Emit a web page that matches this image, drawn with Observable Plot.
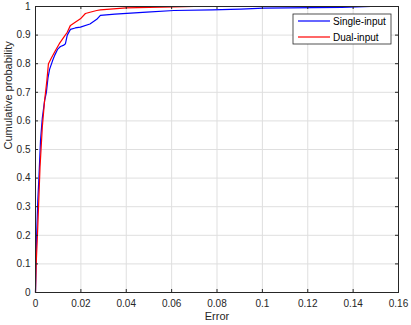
<!DOCTYPE html>
<html><head><meta charset="utf-8">
<script src="https://cdn.jsdelivr.net/npm/d3@7"></script>
<script src="https://cdn.jsdelivr.net/npm/@observablehq/plot@0.6"></script>
<style>
body{margin:0;background:#fff;}
#chart svg{font-family:"Liberation Sans",Arial,sans-serif;}
</style>
</head><body><div id="chart"></div>
<script>
const seriesNames = ["Single-input", "Dual-input"];
const seriesColors = ["#0000ff", "#ff0000"];
const singleErr = [0, 0.0002, 0.0005, 0.001, 0.0015, 0.0022, 0.003, 0.004, 0.0048, 0.0055, 0.0062, 0.0075, 0.0085, 0.0097, 0.011, 0.0125, 0.0132, 0.014, 0.0154, 0.0175, 0.0198, 0.024, 0.027, 0.0286, 0.035, 0.049, 0.061, 0.078, 0.086, 0.0905, 0.1005, 0.1225, 0.135, 0.148];
const singleProb = [0, 0.08, 0.2, 0.32, 0.40, 0.53, 0.61, 0.67, 0.70, 0.75, 0.78, 0.81, 0.83, 0.85, 0.86, 0.865, 0.87, 0.90, 0.92, 0.925, 0.928, 0.939, 0.955, 0.969, 0.973, 0.98, 0.986, 0.988, 0.99, 0.991, 0.994, 0.996, 0.997, 1.0];
const dualErr = [0, 0.0003, 0.001, 0.002, 0.003, 0.004, 0.005, 0.0057, 0.007, 0.0088, 0.0105, 0.0125, 0.014, 0.0154, 0.0175, 0.0198, 0.022, 0.024, 0.027, 0.0286, 0.04, 0.05, 0.061, 0.07];
const dualProb = [0, 0.1, 0.228, 0.44, 0.578, 0.67, 0.74, 0.80, 0.82, 0.846, 0.87, 0.893, 0.91, 0.934, 0.945, 0.957, 0.9755, 0.98, 0.986, 0.988, 0.995, 0.997, 0.999, 1.0];
const xTicks = [0, 0.02, 0.04, 0.06, 0.08, 0.1, 0.12, 0.14, 0.16];
const yTicks = [0, 0.1, 0.2, 0.3, 0.4, 0.5, 0.6, 0.7, 0.8, 0.9, 1];

const single = singleErr.map((e, i) => ({err: e, prob: singleProb[i], s: seriesNames[0]}));
const dual = dualErr.map((e, i) => ({err: e, prob: dualProb[i], s: seriesNames[1]}));

const W = 411, H = 325, mL = 35, mR = 13, mT = 6, mB = 33;
const fmt = d => String(+d.toFixed(2));
const ink = "#262626";

const plot = Plot.plot({
  width: W, height: H,
  marginLeft: mL, marginRight: mR, marginTop: mT, marginBottom: mB,
  style: {fontSize: "10px", fontFamily: "Liberation Sans, Arial, sans-serif", color: ink, background: "#fff"},
  x: {domain: [0, 0.16]},
  y: {domain: [0, 1]},
  marks: [
    Plot.gridX(xTicks, {stroke: "#dfdfdf", strokeOpacity: 1}),
    Plot.gridY(yTicks, {stroke: "#dfdfdf", strokeOpacity: 1}),
    Plot.line(single, {x: "err", y: "prob", stroke: seriesColors[0], strokeWidth: 1.2}),
    Plot.line(dual, {x: "err", y: "prob", stroke: seriesColors[1], strokeWidth: 1.2}),
    Plot.frame({stroke: ink, strokeWidth: 1}),
    Plot.axisX(xTicks, {anchor: "bottom", tickFormat: fmt, tickSize: 0, tickPadding: 7, label: null, fill: ink}),
    Plot.axisY(yTicks, {anchor: "left", tickFormat: fmt, tickSize: 0, tickPadding: 5, label: null, fill: ink}),
    Plot.tickX(xTicks, {x: d => d, stroke: ink, insetTop: H - mT - mB - 3}),
    Plot.tickX(xTicks, {x: d => d, stroke: ink, insetBottom: H - mT - mB - 3}),
    Plot.tickY(yTicks, {y: d => d, stroke: ink, insetRight: W - mL - mR - 3}),
    Plot.tickY(yTicks, {y: d => d, stroke: ink, insetLeft: W - mL - mR - 3}),
    Plot.text(["Error"], {frameAnchor: "bottom", dy: 27, fontSize: 11, fill: ink}),
    Plot.text(["Cumulative probability"], {frameAnchor: "left", dx: -27, rotate: -90, fontSize: 11, fill: ink})
  ]
});

// legend inside the axes, top-right
const svg = d3.select(plot);
const lx = W - mR - 7, lw = 98, ly = mT + 8, lh = 30;
const g = svg.append("g").attr("font-family", "Liberation Sans, Arial, sans-serif").attr("font-size", 10).attr("text-anchor", "start");
g.append("rect").attr("x", lx - lw).attr("y", ly).attr("width", lw).attr("height", lh)
  .attr("fill", "#fff").attr("stroke", ink).attr("stroke-width", 0.8);
seriesNames.forEach((name, i) => {
  const yy = ly + 7 + i * 16;
  g.append("line").attr("x1", lx - lw + 5).attr("x2", lx - lw + 37).attr("y1", yy).attr("y2", yy)
    .attr("stroke", seriesColors[i]).attr("stroke-width", 1.2);
  g.append("text").attr("x", lx - lw + 40).attr("y", yy).attr("dy", "0.35em").attr("text-anchor", "start").attr("fill", "#000").text(name);
});

document.getElementById("chart").appendChild(plot);
</script></body></html>
